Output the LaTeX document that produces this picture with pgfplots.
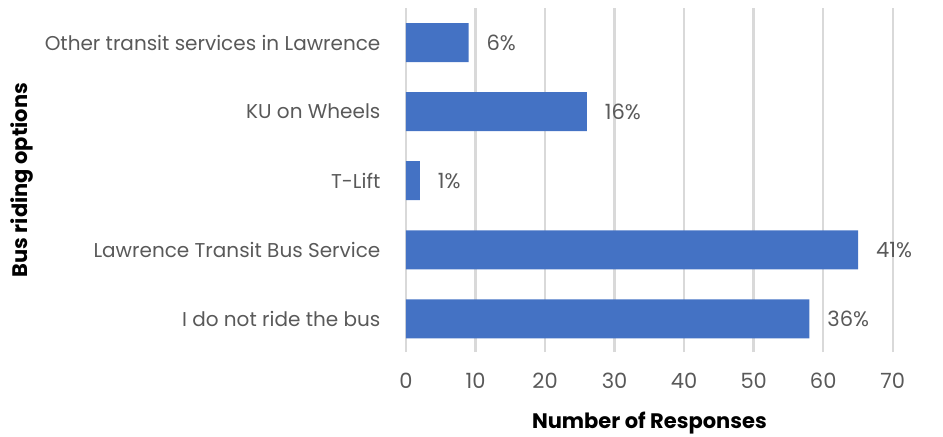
\documentclass[border=0pt]{standalone}
\usepackage{fontspec}
\setmainfont{Poppins}
\usepackage{pgfplots}
\pgfplotsset{compat=1.18}
\definecolor{barblue}{HTML}{4472C4}
\definecolor{txtgray}{HTML}{595959}
\definecolor{gridgray}{HTML}{D9D9D9}
\begin{document}
\begin{tikzpicture}
\path[use as bounding box] (-203pt,-42pt) rectangle (268.5pt,176pt);
\begin{axis}[
  at={(0,0)}, anchor=south west,
  scale only axis,
  width=243.4pt, height=172pt,
  xbar, bar width=19.5pt,
  xmin=0, xmax=70,
  ymin=-0.48, ymax=4.5,
  xtick={0,10,...,70},
  ytick={0,1,2,3,4},
  yticklabels={I do not ride the bus, Lawrence Transit Bus Service, T-Lift, KU on Wheels, Other transit services in Lawrence},
  axis line style={draw=none},
  tick style={draw=none},
  xmajorgrids, grid style={gridgray, line width=1.2pt},
  ticklabel style={font=\fontsize{10}{12}\selectfont, text=txtgray},
  xticklabel style={font=\fontsize{10.5}{12}\selectfont},
  /pgf/number format/assume math mode=true,
  xticklabel style={yshift=-7pt},
  yticklabel style={xshift=-5pt},
  xlabel={\textbf{Number of Responses}},
  ylabel={\textbf{Bus riding options}},
  label style={font=\fontsize{10.5}{12}\selectfont, text=black},
  xlabel style={yshift=-5pt},
  ylabel style={yshift=-1pt},
  point meta=explicit symbolic,
  nodes near coords,
  nodes near coords style={font=\fontsize{10.5}{12}\selectfont, text=txtgray, anchor=west, xshift=5.5pt},
]
\addplot[fill=barblue, draw=none] coordinates {
  (58,0) [36\%]
  (65,1) [41\%]
  (2,2) [1\%]
  (26,3) [16\%]
  (9,4) [6\%]
};
\end{axis}
\end{tikzpicture}
\end{document}
